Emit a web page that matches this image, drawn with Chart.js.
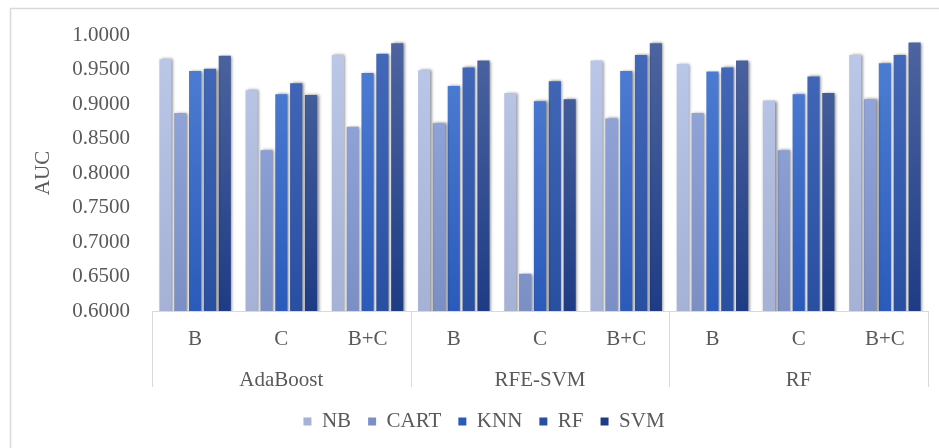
<!DOCTYPE html>
<html><head><meta charset="utf-8">
<script src="https://cdn.jsdelivr.net/npm/chart.js@4.4.1/dist/chart.umd.min.js"></script>
<style>html,body{margin:0;padding:0;background:#fff;}#wrap{width:939px;height:448px;position:relative;}</style>
</head><body><div id="wrap"><canvas id="c"></canvas></div>
<script>
// ---- data ----
const methods = ['AdaBoost', 'RFE-SVM', 'RF'];
const subsets = ['B', 'C', 'B+C'];
const seriesNames = ['NB', 'CART', 'KNN', 'RF', 'SVM'];
const nbValues   = [0.965, 0.920, 0.971, 0.949, 0.916, 0.963, 0.958, 0.905, 0.971];
const cartValues = [0.887, 0.833, 0.867, 0.872, 0.654, 0.879, 0.887, 0.833, 0.907];
const knnValues  = [0.948, 0.914, 0.945, 0.926, 0.904, 0.948, 0.947, 0.914, 0.959];
const rfValues   = [0.951, 0.930, 0.973, 0.953, 0.933, 0.971, 0.953, 0.940, 0.971];
const svmValues  = [0.970, 0.913, 0.988, 0.963, 0.907, 0.988, 0.963, 0.916, 0.989];
const yMin = 0.6, yMax = 1.0, yStep = 0.05;

// ---- styles ----
const seriesValues = [nbValues, cartValues, knnValues, rfValues, svmValues];
const gradStops = [
  ['#bdc9e9', '#a5b1d5'],
  ['#98abdf', '#7c8fc5'],
  ['#5080d5', '#2b5bba'],
  ['#456aba', '#294fa1'],
  ['#4e65a0', '#1e3c85']
];
const FONT = "'Liberation Serif', 'Times New Roman', serif";
const TXT = '#595959';
const LINE = '#d9d9d9';
const FS = 21;

function gradFor(i) {
  return function (ctx) {
    const ca = ctx.chart.chartArea;
    if (!ca) return gradStops[i][0];
    const g = ctx.chart.ctx.createLinearGradient(0, ca.top, 0, ca.bottom);
    g.addColorStop(0, gradStops[i][0]);
    g.addColorStop(1, gradStops[i][1]);
    return g;
  };
}

const labels = methods.flatMap(() => subsets);

const decor = {
  id: 'decor',
  afterLayout(chart) {
    if (chart.legend) { chart.legend.left += 20; chart.legend.right += 20; }
  },
  beforeDraw(chart) {
    const ctx = chart.ctx;
    ctx.save();
    ctx.strokeStyle = LINE;
    ctx.lineWidth = 1.5;
    ctx.strokeRect(10.5, 8.5, 960, 460);
    ctx.restore();
  },
  beforeDatasetsDraw(chart) {
    const ctx = chart.ctx;
    ctx.save();
    ctx.shadowColor = 'rgba(0,0,0,0.5)';
    ctx.shadowBlur = 3;
    ctx.shadowOffsetX = 1.5;
  },
  afterDatasetsDraw(chart) {
    chart.ctx.restore();
  },
  afterDraw(chart) {
    const { ctx, chartArea, scales } = chart;
    const x = scales.x;
    const n = labels.length;
    const half = (x.getPixelForValue(1) - x.getPixelForValue(0)) / 2;
    ctx.save();
    ctx.strokeStyle = LINE;
    ctx.lineWidth = 1;
    for (let g = 0; g <= methods.length; g++) {
      const px = g < methods.length
        ? x.getPixelForValue(g * subsets.length) - half
        : x.getPixelForValue(n - 1) + half;
      const xx = Math.round(px) + 0.5;
      ctx.beginPath();
      ctx.moveTo(xx, chartArea.bottom);
      ctx.lineTo(xx, chartArea.bottom + 76);
      ctx.stroke();
    }
    ctx.restore();
  }
};

new Chart(document.getElementById('c'), {
  type: 'bar',
  data: {
    labels: labels,
    datasets: seriesNames.map((name, i) => ({
      label: name,
      data: seriesValues[i],
      backgroundColor: gradFor(i),
      borderWidth: 0,
      categoryPercentage: 0.86,
      barPercentage: 0.82
    }))
  },
  options: {
    responsive: true,
    maintainAspectRatio: false,
    animation: false,
    layout: { padding: { top: 35, right: 11, left: 0, bottom: 6 } },
    plugins: {
      tooltip: { enabled: false },
      legend: {
        position: 'bottom',
        labels: {
          boxWidth: 8, boxHeight: 8, padding: 17,
          color: TXT, font: { family: FONT, size: FS }
        }
      }
    },
    scales: {
      y: {
        min: yMin, max: yMax,
        grid: { display: false },
        border: { display: false },
        ticks: {
          stepSize: yStep, padding: 14, color: TXT,
          font: { family: FONT, size: FS },
          callback: v => Number(v).toFixed(4)
        },
        title: {
          display: true, text: 'AUC', color: TXT,
          font: { family: FONT, size: FS }, padding: { top: 31, bottom: 0 }
        },
        afterFit: s => { s.width = 152; }
      },
      x: {
        grid: { display: false },
        border: { display: true, color: LINE, width: 1 },
        ticks: { color: TXT, font: { family: FONT, size: FS }, padding: 8, maxRotation: 0, autoSkip: false },
        afterFit: s => { s.height = 43; }
      },
      x2: {
        type: 'category',
        labels: methods,
        position: 'bottom',
        offset: true,
        grid: { display: false },
        border: { display: false },
        ticks: { color: TXT, font: { family: FONT, size: FS }, padding: 6, maxRotation: 0, autoSkip: false },
        afterFit: s => { s.height = 40; }
      }
    }
  },
  plugins: [decor]
});
</script>
</body></html>
